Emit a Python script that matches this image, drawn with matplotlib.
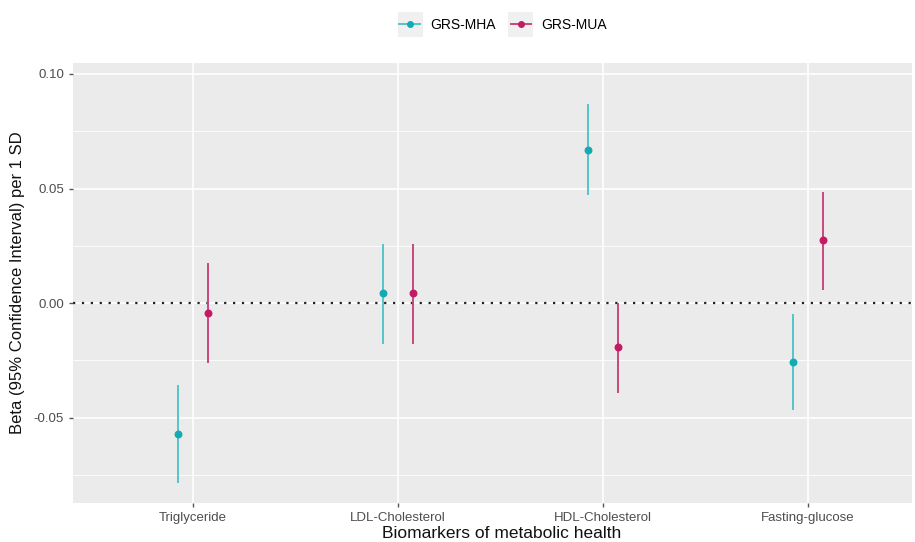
import numpy as np
import matplotlib.pyplot as plt
from matplotlib.lines import Line2D
from matplotlib.patches import Rectangle

plt.rcParams['font.family'] = ['Liberation Sans', 'DejaVu Sans']

# =============================
# data
# =============================
categories = ["Triglyceride", "LDL-Cholesterol", "HDL-Cholesterol", "Fasting-glucose"]
mha_beta = [-0.0572, 0.0044, 0.0668, -0.0258]
mha_low = [-0.0786, -0.0179, 0.0472, -0.0467]
mha_high = [-0.0358, 0.0258, 0.0869, -0.0048]
mua_beta = [-0.0044, 0.0044, -0.0191, 0.0275]
mua_low = [-0.0262, -0.0179, -0.0393, 0.0057]
mua_high = [0.0175, 0.0258, 0.0000, 0.0485]
yticks = [-0.05, 0.00, 0.05, 0.10]
ytick_labels = ["-0.05", "0.00", "0.05", "0.10"]

TEAL_LINE, TEAL_PT = "#55c3ca", "#14aab3"
MAG_LINE, MAG_PT = "#c9487c", "#c21b64"
DODGE = 0.074
W, H = 915, 542

# =============================
# plot
# =============================
fig = plt.figure(figsize=(W / 100, H / 100), dpi=100)
ax = fig.add_axes([73 / W, 39 / H, 839 / W, 440 / H])
ax.set_facecolor("#ebebeb")

x = np.arange(1, len(categories) + 1)

# grid
for yv in [-0.075, -0.025, 0.025, 0.075]:
    ax.axhline(yv, color="white", lw=0.6, zorder=0)
for yv in yticks:
    ax.axhline(yv, color="white", lw=1.2, zorder=0)
for xv in x:
    ax.axvline(xv, color="white", lw=1.2, zorder=0)

ax.axhline(0, color="#222222", lw=1.6, ls=(0, (1, 3)), zorder=1)

ax.vlines(x - DODGE, mha_low, mha_high, color=TEAL_LINE, lw=1.4, zorder=2)
ax.scatter(x - DODGE, mha_beta, color=TEAL_PT, s=22, zorder=3)
ax.vlines(x + DODGE, mua_low, mua_high, color=MAG_LINE, lw=1.4, zorder=2)
ax.scatter(x + DODGE, mua_beta, color=MAG_PT, s=22, zorder=3)

ax.set_xlim(1 - 120 / 205, 4 + 104 / 205)
ax.set_ylim(-0.0873, 0.1048)
ax.set_xticks(x)
ax.set_xticklabels(categories)
ax.set_yticks(yticks)
ax.set_yticklabels(ytick_labels)
ax.tick_params(axis="both", colors="#555555", labelcolor="#4d4d4d",
               labelsize=9.5, length=3, width=1)
for s in ax.spines.values():
    s.set_visible(False)

# panel runs past the right edge of the image, so centre titles on the full panel
fig.text(502 / W, 1 - 534 / H, "Biomarkers of metabolic health", fontsize=12.5,
         color="#111111", ha="center", va="center")
ax.set_ylabel("Beta (95% Confidence Interval) per 1 SD", fontsize=12, color="#111111", labelpad=6)

# legend with grey key boxes
for kx in (398, 508):
    fig.patches.append(Rectangle((kx / W, 1 - 37 / H), 25 / W, 25 / H,
                                 transform=fig.transFigure, facecolor="#f0f0f0",
                                 edgecolor="none", zorder=0))
handles = [
    Line2D([0], [0], color=TEAL_LINE, lw=1.4, marker="o", markersize=4,
           markerfacecolor=TEAL_PT, markeredgecolor=TEAL_PT),
    Line2D([0], [0], color=MAG_LINE, lw=1.4, marker="o", markersize=4,
           markerfacecolor=MAG_PT, markeredgecolor=MAG_PT),
]
fig.legend(handles, ["GRS-MHA", "GRS-MUA"], loc="center", bbox_to_anchor=(503 / W, 1 - 25 / H),
           ncol=2, frameon=False, fontsize=10, handlelength=1.5, columnspacing=1.1,
           handletextpad=0.7)

fig.savefig("out.png", dpi=100)
